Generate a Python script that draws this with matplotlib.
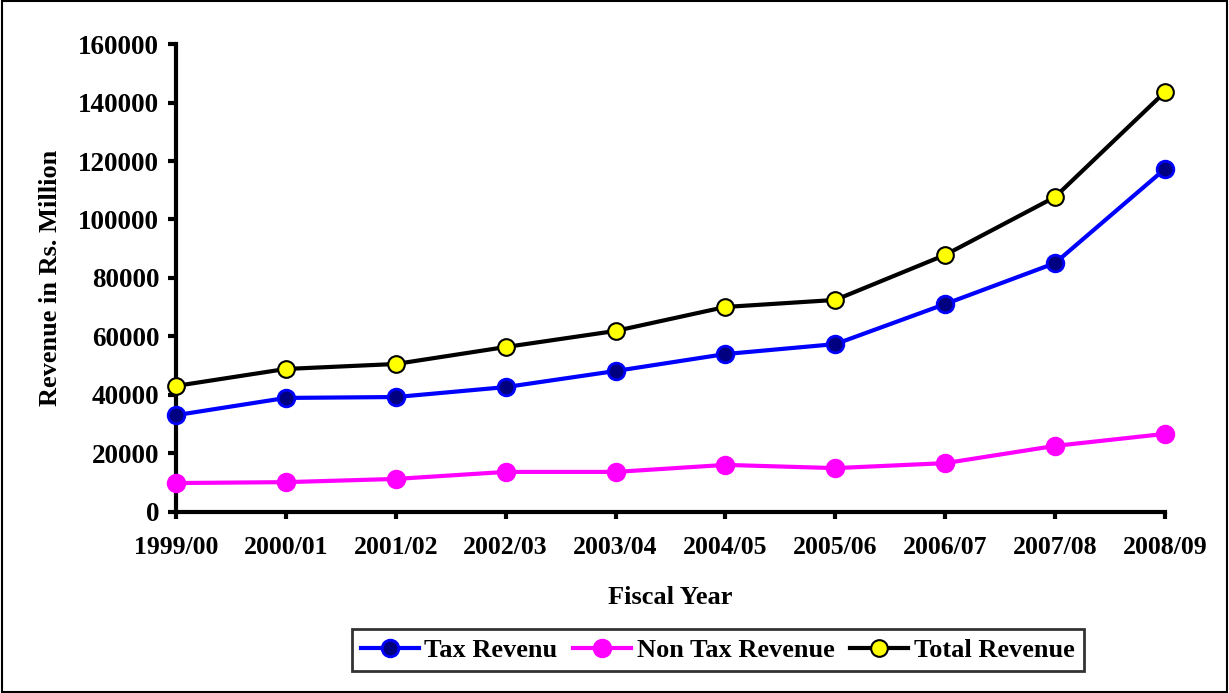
import matplotlib
matplotlib.use('Agg')
import matplotlib.pyplot as plt
from matplotlib.patches import Rectangle

years = ['1999/00', '2000/01', '2001/02', '2002/03', '2003/04',
         '2004/05', '2005/06', '2006/07', '2007/08', '2008/09']
tax = [33100, 39000, 39300, 42700, 48200, 54000, 57400, 71100, 85100, 117300]
non_tax = [9900, 10200, 11300, 13700, 13700, 16100, 15000, 16700, 22600, 26700]
total = [43100, 48900, 50600, 56400, 61900, 70100, 72500, 87900, 107700, 143600]

plt.rcParams['font.family'] = ['Liberation Serif', 'DejaVu Serif']
plt.rcParams['font.weight'] = 'bold'

fig = plt.figure(figsize=(12.29, 6.93), dpi=100)
ax = fig.add_axes([0.1432, 0.2612, 0.8047, 0.6753])

x = list(range(len(years)))
ax.plot(x, tax, color='#0000ff', lw=3, marker='o', ms=12,
        mfc='#000080', mec='#0000ff', mew=2, label='Tax Revenu', clip_on=False, zorder=3)
ax.plot(x, non_tax, color='#ff00ff', lw=3, marker='o', ms=12,
        mfc='#ff00ff', mec='#ff00ff', mew=2, label='Non Tax Revenue', clip_on=False, zorder=3)
ax.plot(x, total, color='black', lw=3, marker='o', ms=12,
        mfc='#ffff00', mec='black', mew=1.5, label='Total Revenue', clip_on=False, zorder=3)

ax.set_xlim(0, 9)
ax.set_ylim(0, 160000)
ax.set_yticks(range(0, 160001, 20000))
ax.set_xticks(x)
ax.set_xticklabels(years)
for s in ['top', 'right']:
    ax.spines[s].set_visible(False)
for s in ['left', 'bottom']:
    ax.spines[s].set_linewidth(3)
ax.tick_params(axis='y', width=3, length=6, direction='out', labelsize=19.5, pad=6)
ax.tick_params(axis='x', width=3, length=5, direction='out', labelsize=18.5, pad=12)
for lab in ax.get_xticklabels() + ax.get_yticklabels():
    lab.set_fontweight('bold')

ax.set_xlabel('Fiscal Year', fontsize=19, fontweight='bold', labelpad=20)
ax.set_ylabel('Revenue in Rs. Million', fontsize=19, fontweight='bold', labelpad=12)

leg = fig.legend(loc='center', bbox_to_anchor=(0.584, 0.062), ncol=3,
                 prop={'size': 19, 'weight': 'bold'}, frameon=True, fancybox=False,
                 handlelength=2.2, handletextpad=0.2, columnspacing=0.6,
                 borderpad=0.35)
leg.get_frame().set_edgecolor('black')
leg.get_frame().set_linewidth(2)

fig.patches.append(Rectangle((0.002, 0.002), 0.996, 0.996, transform=fig.transFigure,
                             fill=False, edgecolor='black', linewidth=1.5))

fig.savefig('out.png', dpi=100)
